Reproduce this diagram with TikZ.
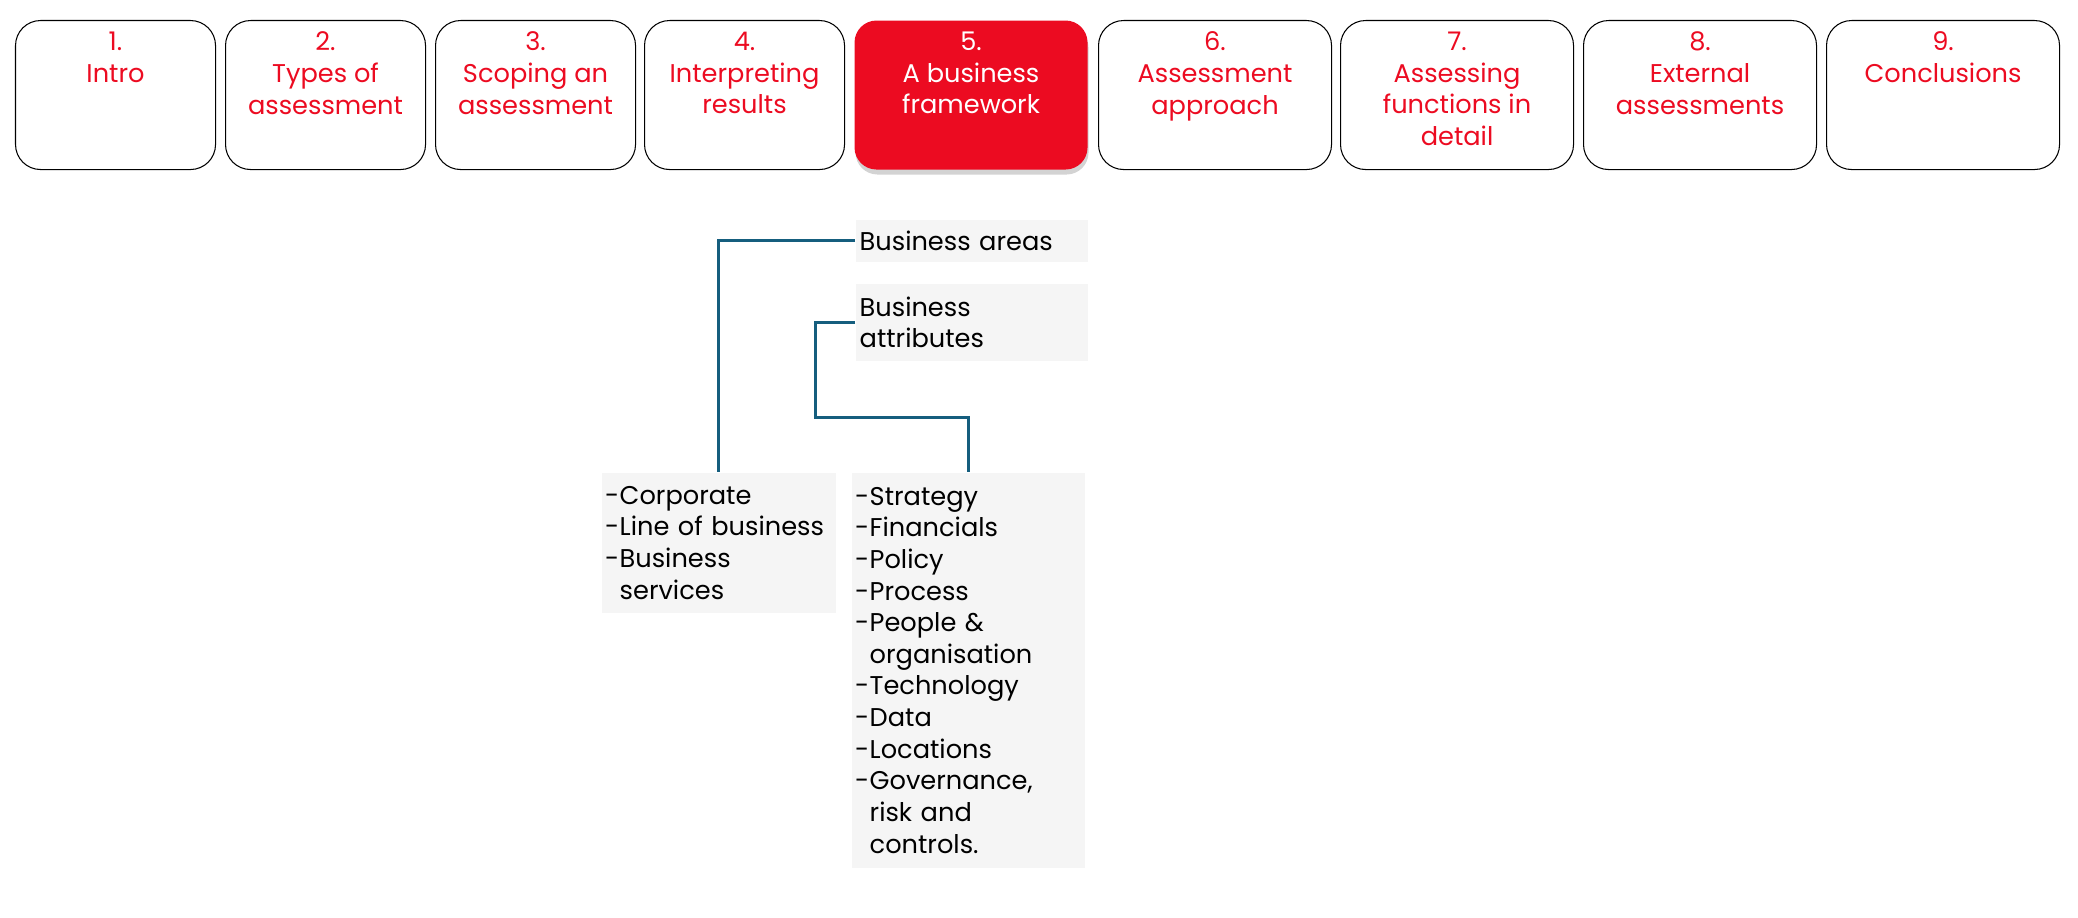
\documentclass[tikz,border=0pt]{standalone}
\usepackage{fontspec}
\setmainfont{Poppins}
\usetikzlibrary{shadows}
\definecolor{stagered}{RGB}{236,11,33}
\definecolor{linkblue}{RGB}{21,94,126}
\definecolor{boxgrey}{RGB}{245,245,245}
\newcommand\stagetext[2]{\parbox[t][1.26cm][t]{#1}{\centering #2}}
\newcommand\dashitem{\makebox[0.13cm][l]{\hspace*{-0.015cm}-}}
\newcommand\dashgap{\hspace*{0.13cm}}

\begin{document}
\begin{tikzpicture}[font=\fontsize{7.3pt}{9pt}\selectfont,
	stage/.style={draw=black, line width=0.3pt, rounded corners=0.25cm, text=stagered, inner sep=0pt, minimum width=2cm, minimum height=1.49cm, anchor=north west},
	wide stage/.style={stage, minimum width=2.33cm},
	current stage/.style={wide stage, draw=none, fill=stagered, text=white, rounded corners=0.22cm, drop shadow={shadow xshift=0.01cm, shadow yshift=-0.05cm, opacity=0.35}},
	topic/.style={fill=boxgrey, inner xsep=0.04cm, inner ysep=0pt, text width=2.24cm, align=left, anchor=north west},
	list/.style={fill=boxgrey, inner xsep=0.05cm, inner ysep=0pt, align=left, anchor=north west},
	link/.style={draw=linkblue, line width=0.85pt}]
	%%%%% START %%%%%
	
	\useasboundingbox (0, 0) rectangle (20.78, -9.18);
	
	\node[stage] (s1) at (0.15, -0.2) {\stagetext{1.9cm}{1.\\Intro}};
	\node[stage] (s2) at (2.25, -0.2) {\stagetext{1.9cm}{2.\\Types of\\assessment}};
	\node[stage] (s3) at (4.35, -0.2) {\stagetext{1.9cm}{3.\\Scoping an\\assessment}};
	\node[stage] (s4) at (6.44, -0.2) {\stagetext{1.9cm}{4.\\Interpreting\\results}};
	\node[current stage] (s5) at (8.54, -0.2) {\stagetext{2.2cm}{5.\\A business\\framework}};
	\node[wide stage] (s6) at (10.98, -0.2) {\stagetext{2.2cm}{6.\\Assessment\\approach}};
	\node[wide stage] (s7) at (13.4, -0.2) {\stagetext{2.2cm}{7.\\Assessing\\functions in\\detail}};
	\node[wide stage] (s8) at (15.83, -0.2) {\stagetext{2.2cm}{8.\\External\\assessments}};
	\node[wide stage] (s9) at (18.26, -0.2) {\stagetext{2.2cm}{9.\\Conclusions}};
	
	\node[topic, minimum height=0.42cm] (areas) at (8.55, -2.19) {Business areas};
	\node[topic, minimum height=0.77cm] (attrs) at (8.55, -2.83) {Business\\attributes};
	
	\node[list, text width=2.24cm, minimum height=1.4cm] (scope) at (6.01, -4.72)
		{\dashitem Corporate\\ \dashitem Line of business\\ \dashitem Business\\ \dashgap services};
	\node[list, text width=2.23cm, minimum height=3.95cm] (attrlist) at (8.51, -4.72)
		{\dashitem Strategy\\ \dashitem Financials\\ \dashitem Policy\\ \dashitem Process\\
		 \dashitem People \&\\ \dashgap organisation\\ \dashitem Technology\\ \dashitem Data\\
		 \dashitem Locations\\ \dashitem Governance,\\ \dashgap risk and\\ \dashgap controls.};
	
	\draw[link] (areas.west) -| (scope.north);
	\draw[link] (attrs.west) -| ++(-0.4, -0.95) -| (attrlist.north);
	
	%%%%% END %%%%%
\end{tikzpicture}
\end{document}
